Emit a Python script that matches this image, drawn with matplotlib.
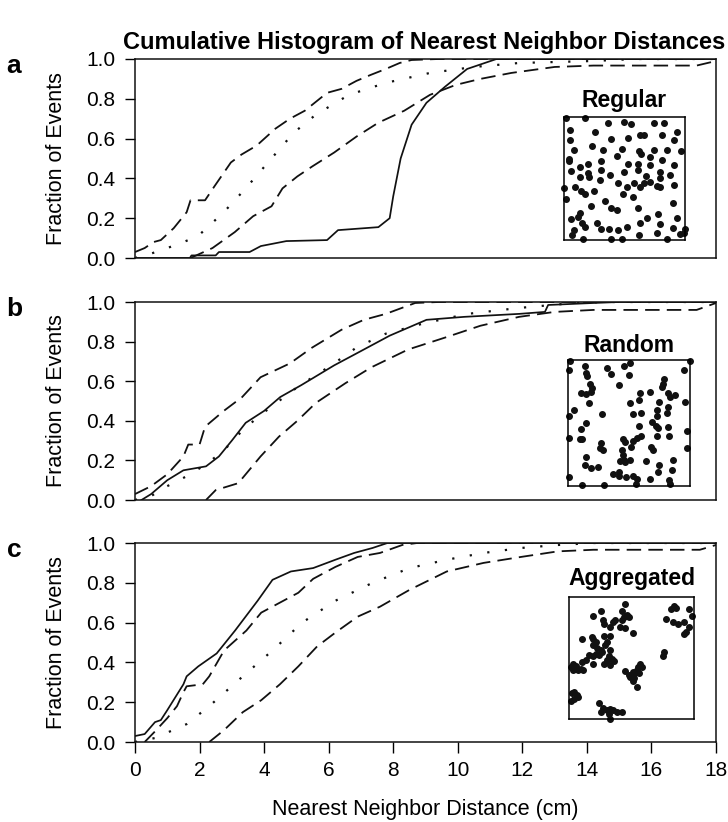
import numpy as np
import matplotlib
matplotlib.use("Agg")
import matplotlib.pyplot as plt

plt.rcParams['font.family'] = ['Liberation Sans', 'DejaVu Sans']

# ---- cumulative curves (x in cm, y = fraction of events) ----
# panel a: regular
a_obs_x = [0, 1.7, 1.75, 2.5, 2.6, 3.55, 3.9, 4.69, 5.95, 6.29, 7.54, 7.89, 8.0, 8.23, 8.57, 9.03, 9.6, 10.29, 11.2, 18]
a_obs_y = [0, 0, 0.013, 0.013, 0.03, 0.03, 0.06, 0.085, 0.09, 0.14, 0.155, 0.2, 0.31, 0.5, 0.67, 0.78, 0.86, 0.95, 1.0, 1.0]
a_up_x = [0, 0.3, 0.57, 0.8, 1.2, 1.45, 1.6, 1.72, 2.17, 2.46, 2.97, 3.3, 3.77, 4.35, 4.8, 5.26, 5.95, 6.4, 6.86, 7.3, 7.77, 8.2, 8.57, 9.4, 18]
a_up_y = [0.03, 0.05, 0.08, 0.09, 0.15, 0.2, 0.23, 0.29, 0.29, 0.36, 0.48, 0.52, 0.565, 0.65, 0.7, 0.74, 0.83, 0.85, 0.89, 0.92, 0.95, 0.98, 0.995, 1.0, 1.0]
a_dot_x = [0, 0.46, 1.0, 1.5, 1.95, 2.75, 3.43, 4.12, 4.92, 5.6, 6.63, 7.77, 9.14, 10.5, 11.9, 14.2, 15.5, 18]
a_dot_y = [0, 0.02, 0.05, 0.08, 0.11, 0.23, 0.35, 0.48, 0.63, 0.72, 0.82, 0.88, 0.93, 0.96, 0.98, 0.99, 1.0, 1.0]
a_low_x = [1.72, 2.4, 3.09, 3.66, 4.23, 4.57, 5.03, 5.49, 6.17, 6.86, 7.54, 8.34, 9.14, 9.94, 10.7, 11.66, 13.0, 14.2, 17.4, 18]
a_low_y = [0, 0.05, 0.13, 0.21, 0.26, 0.35, 0.41, 0.46, 0.53, 0.61, 0.68, 0.74, 0.82, 0.87, 0.9, 0.93, 0.96, 0.967, 0.967, 0.99]

# panel b: random
b_obs_x = [0.2, 0.5, 1.0, 1.3, 1.5, 2.2, 2.6, 3.0, 3.43, 4.0, 4.5, 5.15, 6.17, 6.86, 7.89, 9.03, 10.2, 11.9, 12.7, 12.8, 14.2, 15, 18]
b_obs_y = [0, 0.03, 0.1, 0.13, 0.15, 0.17, 0.22, 0.3, 0.39, 0.45, 0.52, 0.58, 0.68, 0.74, 0.83, 0.91, 0.925, 0.94, 0.95, 0.985, 0.995, 1.0, 1.0]
b_up_x = [0, 0.5, 1.0, 1.5, 1.65, 2.0, 2.17, 2.75, 3.32, 3.89, 4.8, 5.49, 6.4, 7.09, 7.77, 8.68, 9.4, 18]
b_up_y = [0.03, 0.07, 0.13, 0.22, 0.28, 0.28, 0.37, 0.45, 0.52, 0.62, 0.69, 0.77, 0.86, 0.91, 0.94, 0.995, 1.0, 1.0]
b_dot_x = [0, 0.5, 1.0, 1.6, 2.2, 2.75, 3.32, 3.89, 5.03, 6.17, 6.86, 7.77, 8.9, 10.3, 11.9, 13.6, 14.5, 18]
b_dot_y = [0, 0.02, 0.07, 0.12, 0.18, 0.25, 0.35, 0.43, 0.57, 0.69, 0.77, 0.84, 0.89, 0.94, 0.97, 0.995, 1.0, 1.0]
b_low_x = [2.2, 2.5, 3.2, 3.89, 4.46, 5.03, 5.6, 6.52, 7.32, 8.46, 9.6, 10.7, 11.9, 13.0, 14.2, 17.4, 18]
b_low_y = [0, 0.05, 0.085, 0.22, 0.32, 0.4, 0.49, 0.59, 0.67, 0.76, 0.82, 0.88, 0.925, 0.95, 0.96, 0.96, 0.995]

# panel c: aggregated
c_obs_x = [0, 0.3, 0.62, 0.8, 1.0, 1.5, 1.6, 1.96, 2.53, 3.1, 3.8, 4.26, 4.83, 5.52, 6.21, 6.79, 7.36, 7.82, 18]
c_obs_y = [0.03, 0.04, 0.1, 0.11, 0.16, 0.29, 0.33, 0.38, 0.445, 0.56, 0.71, 0.815, 0.857, 0.874, 0.916, 0.95, 0.975, 1.0, 1.0]
c_up_x = [0.3, 0.6, 1.0, 1.3, 1.5, 1.6, 2.1, 2.3, 2.76, 3.45, 3.91, 4.6, 5.06, 5.52, 6.21, 6.9, 7.59, 8.28, 8.74, 18]
c_up_y = [0, 0.05, 0.12, 0.18, 0.25, 0.28, 0.29, 0.33, 0.46, 0.56, 0.65, 0.71, 0.75, 0.82, 0.88, 0.93, 0.95, 0.99, 1.0, 1.0]
c_dot_x = [0, 0.62, 1.6, 2.3, 3.34, 4.26, 5.18, 6.21, 7.36, 8.51, 9.66, 10.8, 11.96, 13.1, 14.2, 18]
c_dot_y = [0, 0.02, 0.09, 0.18, 0.33, 0.46, 0.6, 0.71, 0.8, 0.874, 0.916, 0.95, 0.975, 0.99, 1.0, 1.0]
c_low_x = [2.3, 2.76, 3.34, 3.91, 4.49, 5.06, 5.64, 6.21, 6.9, 7.59, 8.51, 9.66, 10.8, 11.96, 13.1, 14.2, 17.5, 18]
c_low_y = [0, 0.06, 0.15, 0.21, 0.29, 0.38, 0.48, 0.55, 0.63, 0.68, 0.765, 0.857, 0.9, 0.93, 0.958, 0.966, 0.966, 0.99]

# ---- point maps in the insets (field units 0-100) ----
regular_x = [2, 17, 36, 50, 55, 74, 83, 5, 26, 63, 66, 81, 93, 39, 53, 5, 91, 23, 8, 32, 48, 62, 64, 74, 85, 97,
             44, 4, 31, 71, 81, 4, 13, 20, 53, 61, 91, 71, 6, 31, 50, 61, 68, 79, 88, 13, 20, 21, 38, 30, 79,
             45, 58, 66, 71, 0, 9, 52, 63, 77, 79, 91, 14, 17, 25, 49, 57, 2, 34, 39, 44, 90, 22, 61, 13, 12,
             6, 78, 69, 63, 93, 15, 17, 27, 37, 45, 52, 79, 90, 100, 8, 7, 16, 31, 39, 48, 62, 77, 85, 96, 99]
regular_y = [99, 99, 95, 96, 94, 95, 95, 89, 88, 85, 85, 85, 88, 82, 83, 81, 81, 76, 73, 73, 74, 72, 70, 73, 73, 72,
             68, 66, 64, 67, 65, 64, 59, 62, 62, 62, 61, 61, 56, 57, 55, 57, 52, 55, 53, 51, 54, 51, 53, 49, 50,
             46, 46, 46, 47, 42, 43, 43, 43, 44, 43, 45, 40, 37, 40, 37, 35, 33, 32, 26, 24, 30, 28, 26, 22, 19,
             17, 21, 18, 14, 18, 14, 11, 14, 9, 8, 11, 13, 10, 9, 8, 4, 1, 9, 1, 1, 4, 6, 1, 5, 6]

random_x = [2, 51, 100, 1, 14, 15, 16, 32, 35, 46, 50, 95, 18, 42, 79, 78, 77, 11, 15, 20, 19, 59, 67, 82, 84, 88,
            17, 51, 58, 75, 96, 5, 73, 82, 81, 28, 53, 60, 73, 1, 15, 11, 58, 69, 72, 74, 82, 98, 10, 12, 45,
            47, 53, 57, 60, 73, 83, 1, 27, 26, 29, 44, 52, 68, 70, 98, 15, 45, 46, 43, 47, 51, 64, 75, 86, 14,
            19, 25, 85, 37, 42, 42, 48, 53, 57, 67, 74, 83, 1, 12, 30, 56, 84]
random_y = [99, 98, 99, 92, 95, 90, 87, 94, 89, 95, 88, 92, 81, 80, 85, 81, 79, 74, 73, 78, 75, 74, 75, 74, 71, 72,
            66, 66, 68, 67, 67, 60, 60, 63, 58, 57, 57, 58, 56, 56, 50, 45, 48, 51, 48, 46, 47, 44, 37, 37, 37,
            35, 36, 38, 40, 40, 40, 38, 34, 30, 29, 29, 31, 31, 29, 30, 23, 25, 21, 20, 19, 21, 20, 17, 21, 17,
            14, 15, 13, 10, 11, 8, 7, 8, 6, 6, 11, 5, 7, 1, 1, 2, 2]

aggregated_x = [45, 42, 46, 44, 42, 48, 37, 33, 41, 45, 51, 25, 19, 27, 28, 35, 84, 86, 82, 96, 78, 83, 87, 92, 96,
                94, 92, 99, 10, 18, 19, 21, 19, 22, 25, 28, 33, 30, 29, 24, 26, 16, 19, 30, 32, 34, 28, 33, 36,
                33, 21, 19, 13, 10, 9, 5, 3, 1, 3, 7, 11, 76, 75, 57, 55, 58, 54, 51, 52, 56, 49, 52, 45, 48,
                51, 54, 4, 6, 2, 1, 4, 7, 24, 27, 30, 33, 35, 38, 42, 25, 32, 33]
aggregated_y = [94, 88, 85, 83, 81, 83, 81, 75, 75, 74, 70, 88, 84, 81, 78, 79, 92, 91, 90, 90, 82, 79, 78, 79, 75,
                71, 69, 84, 65, 67, 65, 63, 60, 58, 56, 68, 68, 63, 60, 52, 55, 52, 51, 48, 51, 49, 45, 44, 47,
                56, 53, 45, 48, 46, 41, 43, 45, 42, 40, 40, 40, 55, 51, 45, 42, 42, 40, 38, 37, 37, 34, 33, 39, 36,
                31, 26, 22, 19, 21, 14, 16, 18, 13, 9, 7, 8, 7, 5, 5, 5, 4, 0]

panel_letters = ['a', 'b', 'c']
pattern_names = ['Regular', 'Random', 'Aggregated']
x_ticks = [0, 2, 4, 6, 8, 10, 12, 14, 16, 18]
y_ticks = [0.0, 0.2, 0.4, 0.6, 0.8, 1.0]

curves = [
    (a_obs_x, a_obs_y, a_up_x, a_up_y, a_dot_x, a_dot_y, a_low_x, a_low_y),
    (b_obs_x, b_obs_y, b_up_x, b_up_y, b_dot_x, b_dot_y, b_low_x, b_low_y),
    (c_obs_x, c_obs_y, c_up_x, c_up_y, c_dot_x, c_dot_y, c_low_x, c_low_y),
]
maps = [(regular_x, regular_y), (random_x, random_y), (aggregated_x, aggregated_y)]

W, H = 728, 822
fig = plt.figure(figsize=(W / 100, H / 100), dpi=100)

# axes boxes in pixels (top, bottom)
boxes = [(59, 258), (302, 500), (543, 742)]
x_left, x_right = 135, 716
# inset boxes in data coords [x0, y0, w, h] and label y
insets = [([13.29, 0.09, 3.75, 0.62], 0.79),
          ([13.41, 0.07, 3.78, 0.637], 0.78),
          ([13.46, 0.118, 3.85, 0.612], 0.82)]

ink = '#111111'
dash = (0, (8, 4))
dot = (0, (1, 7))

for i in range(3):
    top, bot = boxes[i]
    ax = fig.add_axes([x_left / W, 1 - bot / H, (x_right - x_left) / W, (bot - top) / H])
    ox, oy, ux, uy, dx, dy, lx, ly = curves[i]
    ax.plot(ux, uy, color=ink, lw=1.3, linestyle=dash)
    ax.plot(lx, ly, color=ink, lw=1.3, linestyle=dash)
    ax.plot(dx, dy, color=ink, lw=1.6, linestyle=dot)
    ax.plot(ox, oy, color=ink, lw=1.25)
    ax.set_xlim(0, 18)
    ax.set_ylim(0, 1)
    ax.set_yticks(y_ticks)
    ax.set_yticklabels(['%.1f' % v for v in y_ticks])
    ax.tick_params(axis='y', direction='out', length=7, width=1, pad=7, labelsize=15)
    if i < 2:
        ax.set_xticks([])
    else:
        ax.set_xticks(x_ticks)
        ax.tick_params(axis='x', direction='out', length=8, width=1, pad=6, labelsize=15)
        ax.set_xlabel('Nearest Neighbor Distance (cm)', fontsize=15.5, labelpad=13)
    for sp in ax.spines.values():
        sp.set_linewidth(1.1)
        sp.set_color(ink)

    rect, ty = insets[i]
    ins = ax.inset_axes(rect, transform=ax.transData)
    px, py = maps[i]
    ins.plot(px, py, 'o', color=ink, ms=4, clip_on=False)
    ins.set_xlim(0, 100)
    ins.set_ylim(0, 100)
    ins.set_xticks([])
    ins.set_yticks([])
    for sp in ins.spines.values():
        sp.set_linewidth(1.1)
    ax.text(rect[0] + rect[2] / 2, ty, pattern_names[i], ha='center', va='center',
            fontsize=16.5, fontweight='bold')

    fig.text(57 / W, 1 - (top + bot) / 2 / H, 'Fraction of Events', rotation=90,
             ha='center', va='center', fontsize=15.5)
    fig.text(14 / W, 1 - (top + 7) / H, panel_letters[i], ha='center', va='center',
             fontsize=19, fontweight='bold')

fig.text(725 / W, 1 - 42 / H, 'Cumulative Histogram of Nearest Neighbor Distances',
         ha='right', va='center', fontsize=17, fontweight='bold')

fig.savefig('out.png', dpi=100)
